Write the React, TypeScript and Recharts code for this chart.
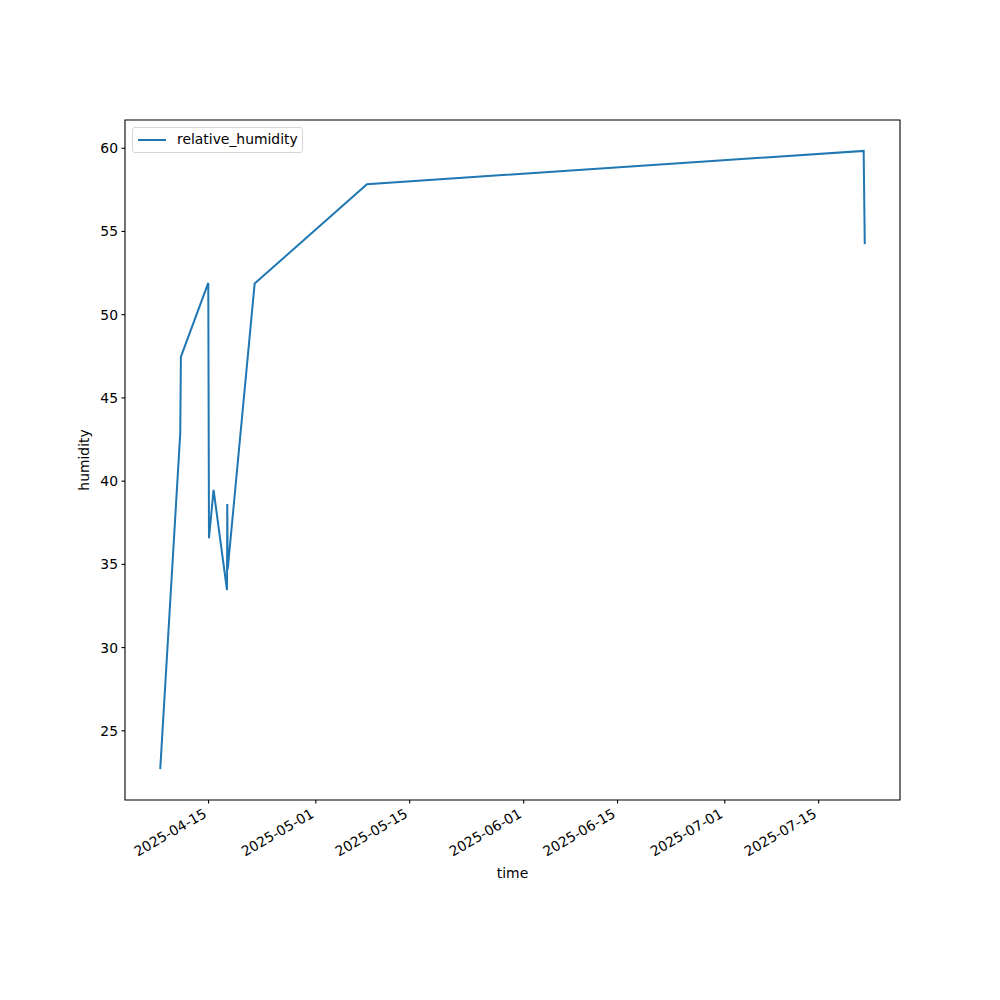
import React from 'react';
import {
    LineChart,
    Line,
    XAxis,
    YAxis,
    ReferenceArea,
    Label
} from 'recharts';

// readings (UTC) and relative humidity values
const times = [
    '2025-04-07T19:00Z',
    '2025-04-10T18:40Z',
    '2025-04-10T21:00Z',
    '2025-04-14T23:00Z',
    '2025-04-15T01:30Z',
    '2025-04-15T18:00Z',
    '2025-04-17T18:00Z',
    '2025-04-17T19:00Z',
    '2025-04-17T20:30Z',
    '2025-04-21T21:00Z',
    '2025-05-08T15:00Z',
    '2025-07-21T17:00Z',
    '2025-07-21T21:00Z',
];

const humidity = [22.7, 42.87, 47.47, 51.91, 36.57, 39.47, 33.46, 38.63, 34.7, 51.87, 57.84, 59.84, 54.24];

const xTickLabels = ['2025-04-15', '2025-05-01', '2025-05-15', '2025-06-01', '2025-06-15', '2025-07-01', '2025-07-15'];
const yTicks = [25, 30, 35, 40, 45, 50, 55, 60];

const FONT = "'DejaVu Sans', sans-serif";
const FS = 13.9;
const BLUE = '#1f77b4';

const chartData = times.map((t, i) => ({ time: Date.parse(t), relative_humidity: humidity[i] }));
const xTicks = xTickLabels.map(d => Date.parse(d + 'T00:00Z'));

// matplotlib-style 5% margins
const pad = (lo: number, hi: number): [number, number] => {
    const r = hi - lo;
    return [lo - r * 0.05, hi + r * 0.05];
};
const xDomain = pad(Math.min(...chartData.map(d => d.time)), Math.max(...chartData.map(d => d.time)));
const yDomain = pad(Math.min(...humidity), Math.max(...humidity));

const fmtDate = (v: number) => new Date(v).toISOString().slice(0, 10);

const RotatedTick = (props: any) => {
    const { x, y, payload } = props;
    return (
        <text
            x={x - 1}
            y={y + 13}
            textAnchor="end"
            transform={`rotate(-30, ${x - 1}, ${y + 13})`}
            fontFamily={FONT}
            fontSize={FS}
            fill="#000"
        >
            {fmtDate(payload.value)}
        </text>
    );
};

export default function App() {
    return (
        <div style={{ position: 'absolute', left: 0, top: 0, width: 1000, height: 1000, background: '#fff' }}>
            <LineChart
                width={1000}
                height={1000}
                data={chartData}
                margin={{ top: 120, right: 100, bottom: 0, left: 0 }}
            >
                <XAxis
                    dataKey="time"
                    type="number"
                    domain={xDomain}
                    ticks={xTicks}
                    interval={0}
                    allowDataOverflow
                    height={200}
                    tickSize={3.5}
                    tickMargin={0}
                    axisLine={false}
                    tickLine={{ stroke: '#000', strokeWidth: 1.1 }}
                    tick={<RotatedTick />}
                >
                    <Label
                        content={(p: any) => {
                            const vb = p.viewBox || { x: 125, width: 775 };
                            return (
                                <text x={vb.x + vb.width / 2} y={878} textAnchor="middle" fontFamily={FONT} fontSize={FS} fill="#000">
                                    time
                                </text>
                            );
                        }}
                    />
                </XAxis>
                <YAxis
                    type="number"
                    domain={yDomain}
                    ticks={yTicks}
                    interval={0}
                    allowDataOverflow
                    width={125}
                    tickSize={3.5}
                    tickMargin={3.5}
                    axisLine={false}
                    tickLine={{ stroke: '#000', strokeWidth: 1.1 }}
                    tick={{ fill: '#000', fontFamily: FONT, fontSize: FS }}
                >
                    <Label
                        content={() => (
                            <text
                                x={89}
                                y={460}
                                textAnchor="middle"
                                transform="rotate(-90, 89, 460)"
                                fontFamily={FONT}
                                fontSize={FS}
                                fill="#000"
                            >
                                humidity
                            </text>
                        )}
                    />
                </YAxis>
                <ReferenceArea
                    x1={xDomain[0]}
                    x2={xDomain[1]}
                    y1={yDomain[0]}
                    y2={yDomain[1]}
                    fill="none"
                    stroke="#000"
                    strokeWidth={1.1}
                    ifOverflow="visible"
                />
                <Line
                    type="linear"
                    dataKey="relative_humidity"
                    stroke={BLUE}
                    strokeWidth={2}
                    dot={false}
                    isAnimationActive={false}
                />
            </LineChart>
            {/* legend */}
            <div
                style={{
                    position: 'absolute',
                    left: 132,
                    top: 127,
                    width: 169,
                    height: 24,
                    border: '1px solid #d6d6d6',
                    borderRadius: 3,
                    background: 'rgba(255,255,255,0.8)',
                    boxSizing: 'content-box',
                }}
            >
                <div style={{ position: 'absolute', left: 5, top: 11, width: 28, height: 2, background: BLUE }} />
                <span
                    style={{
                        position: 'absolute',
                        left: 44,
                        top: 3,
                        fontFamily: FONT,
                        fontSize: FS,
                        lineHeight: '17px',
                        color: '#000',
                        whiteSpace: 'nowrap',
                    }}
                >
                    relative_humidity
                </span>
            </div>
        </div>
    );
}
